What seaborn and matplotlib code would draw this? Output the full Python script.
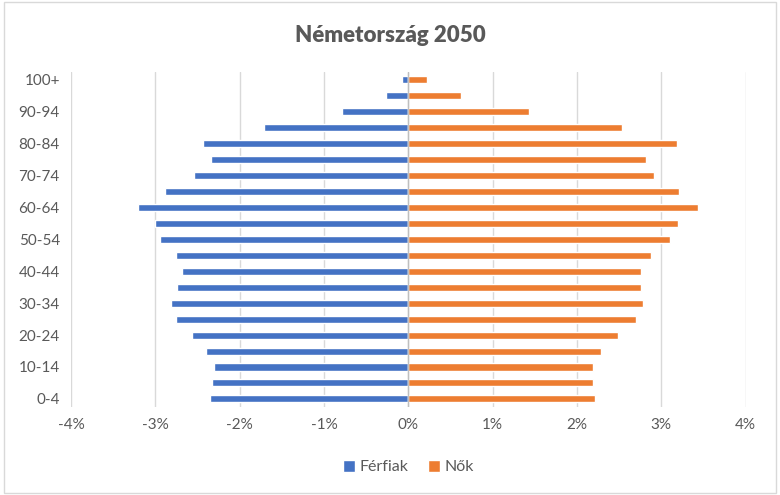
import matplotlib
matplotlib.use("Agg")
import matplotlib.pyplot as plt
import seaborn as sns
import pandas as pd
from matplotlib.ticker import FuncFormatter
from matplotlib.patches import Rectangle

age_groups = ["0-4", "5-9", "10-14", "15-19", "20-24", "25-29", "30-34", "35-39",
              "40-44", "45-49", "50-54", "55-59", "60-64", "65-69", "70-74",
              "75-79", "80-84", "85-89", "90-94", "95-99", "100+"]
ferfiak = [-2.35, -2.33, -2.31, -2.40, -2.57, -2.76, -2.81, -2.74, -2.68, -2.76,
           -2.95, -3.00, -3.21, -2.88, -2.54, -2.34, -2.44, -1.71, -0.79, -0.27, -0.07]
nok = [2.21, 2.19, 2.19, 2.28, 2.49, 2.70, 2.78, 2.76, 2.76, 2.88,
       3.10, 3.20, 3.43, 3.21, 2.91, 2.82, 3.18, 2.53, 1.43, 0.63, 0.22]
series_names = ["Férfiak", "Nők"]
colors = ["#4472C4", "#ED7D31"]
title = "Németország 2050"

df = pd.DataFrame({
    "age": age_groups * 2,
    "value": ferfiak + nok,
    "sex": [series_names[0]] * len(age_groups) + [series_names[1]] * len(age_groups),
})

sns.set_style("white")
plt.rcParams["font.family"] = ["Lato", "DejaVu Sans"]

fig = plt.figure(figsize=(7.8, 4.95), dpi=100)
ax = fig.add_axes([0.091, 0.178, 0.865, 0.677])

order = age_groups[::-1]
sns.barplot(data=df, x="value", y="age", hue="sex", order=order,
            hue_order=series_names, palette=colors, dodge=False, width=0.44,
            orient="h", ax=ax, legend=True, saturation=1)

ax.set_xlim(-4, 4)
ax.set_xticks([-4, -3, -2, -1, 0, 1, 2, 3, 4])
ax.xaxis.set_major_formatter(FuncFormatter(lambda v, p: f"{int(round(v))}%"))
ax.grid(axis="x", color="#D9D9D9", linewidth=1)
ax.set_axisbelow(True)
for s in ax.spines.values():
    s.set_visible(False)
ax.axvline(0, color="#BFBFBF", linewidth=1, zorder=1)

labels = [a if i % 2 == 0 else "" for i, a in enumerate(order)]
ax.set_yticks(range(len(order)))
ax.set_yticklabels(labels)
ax.tick_params(axis="both", length=0, labelsize=11, colors="#595959", pad=8)
ax.set_xlabel("")
ax.set_ylabel("")

leg = ax.legend(loc="upper center", bbox_to_anchor=(0.5, -0.115), ncol=2,
                frameon=False, fontsize=11.5, handlelength=0.75, handleheight=0.75,
                handletextpad=0.3, columnspacing=1.2)
for t in leg.get_texts():
    t.set_color("#595959")

fig.text(0.5, 0.928, title, ha="center", va="center", fontsize=16,
         fontweight="heavy", color="#595959")

fig.patches.append(Rectangle((0.005, 0.005), 0.99, 0.99, transform=fig.transFigure,
                             fill=False, edgecolor="#D9D9D9", linewidth=1))

fig.savefig("out.png", dpi=100)
